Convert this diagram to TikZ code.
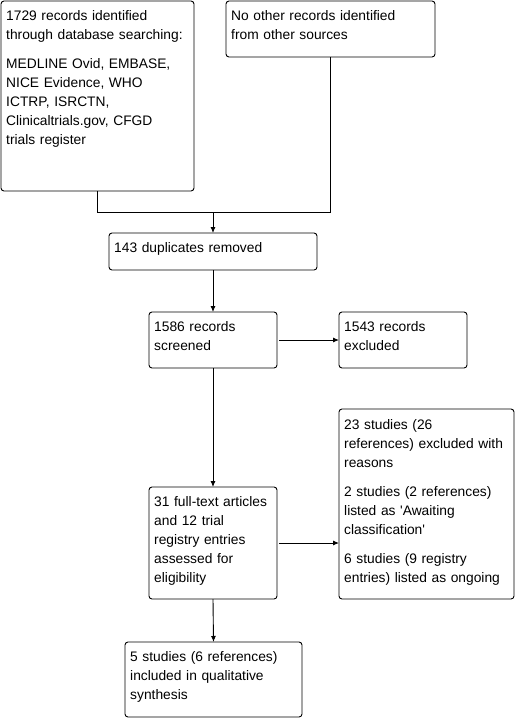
\documentclass[tikz,border=0pt]{standalone}
\usepackage{fontspec}
\setmainfont{Liberation Sans}[Ligatures=TeXOff]
\usetikzlibrary{arrows.meta}
\begin{document}
\begin{tikzpicture}[x=1pt,y=-1pt,
  box/.style={draw=black,line width=0.9pt,rounded corners=3pt,inner sep=0pt,outer sep=0pt,anchor=north west},
  txt/.style={anchor=base west,inner sep=0pt,text width=250pt,align=left,font=\fontsize{13.8pt}{19pt}\selectfont},
  conn/.style={draw=black,line width=0.9pt},
  arr/.style={conn,-{Latex[length=6pt,width=5pt]}}]
\useasboundingbox[fill=white] (0,0) rectangle (516,718);
% boxes
\node[box,minimum width=193pt,minimum height=190pt] (A) at (1,1) {};
\node[box,minimum width=209pt,minimum height=56pt] (B) at (226,1) {};
\node[box,minimum width=208pt,minimum height=37pt] (C) at (109,233) {};
\node[box,minimum width=128pt,minimum height=56pt] (D) at (149,312) {};
\node[box,minimum width=128pt,minimum height=56pt] (E) at (339,312) {};
\node[box,minimum width=175pt,minimum height=190pt] (F) at (339,409) {};
\node[box,minimum width=128pt,minimum height=112pt] (G) at (149,487) {};
\node[box,minimum width=177pt,minimum height=75pt] (H) at (125,642) {};
% texts
\node[txt] (tA) at (6,20) {1729 records identified\\ through database searching:\\[10pt] MEDLINE Ovid, EMBASE,\\ NICE Evidence, WHO\\ ICTRP, ISRCTN,\\ Clinicaltrials.gov, CFGD\\ trials register};
\node[txt] (tB) at (231,20) {No other records identified\\ from other sources};
\node[txt] (tC) at (114,252) {143 duplicates removed};
\node[txt] (tD) at (154,331) {1586 records\\ screened};
\node[txt] (tE) at (344,331) {1543 records\\ excluded};
\node[txt] (tF) at (344,429) {23 studies (26\\ references) excluded with\\ reasons\\[10pt] 2 studies (2 references)\\ listed as 'Awaiting\\ classification'\\[10pt] 6 studies (9 registry\\ entries) listed as ongoing};
\node[txt] (tG) at (154,506) {31 full-text articles\\ and 12 trial\\ registry entries\\ assessed for\\ eligibility};
\node[txt] (tH) at (130,661) {5 studies (6 references)\\ included in qualitative\\ synthesis};
% connectors
\coordinate (m) at (213,212);
\draw[conn] (A.south) |- (m);
\draw[conn] (B.south) |- (m);
\draw[arr] (m) -- (C.north);
\draw[arr] (C.south) -- (D.north);
\draw[arr,shorten <=2pt] (D.east) -- (E.west);
\draw[arr] (D.south) -- (G.north);
\draw[arr,shorten <=2pt] (G.east) -- (F.west |- G.east);
\draw[arr] (G.south) -- (H.north);
\end{tikzpicture}
\end{document}
